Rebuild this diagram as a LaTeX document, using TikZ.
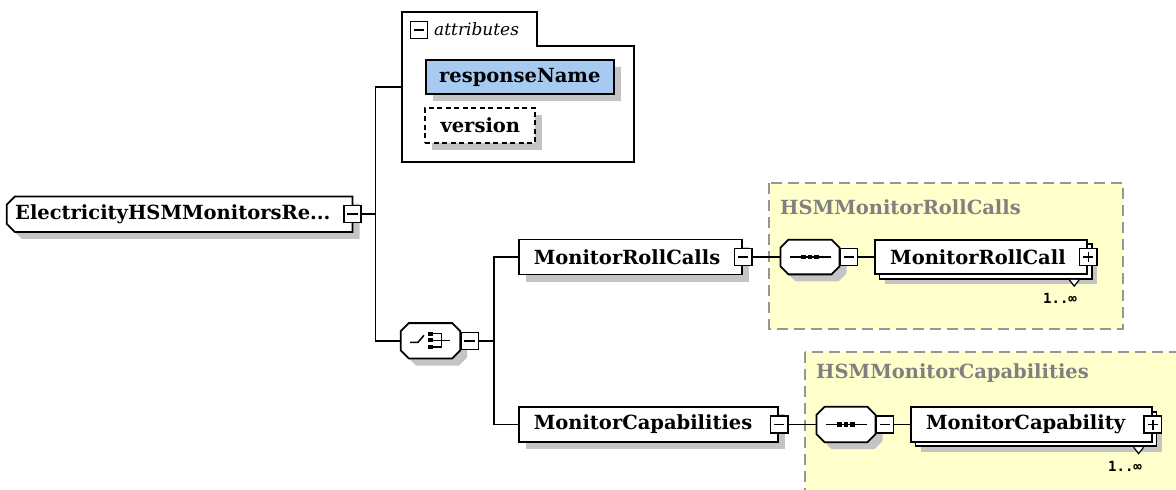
\documentclass[tikz,border=0pt]{standalone}
\usepackage{fontspec}
\setmainfont{DejaVu Serif}
\newfontfamily\cardfont{DejaVu Sans Mono}
\usetikzlibrary{shadows,calc}
\pgfdeclarelayer{back}
\pgfdeclarelayer{mid}
\pgfsetlayers{back,mid,main}
\definecolor{shadowc}{RGB}{196,196,196}
\definecolor{attrblue}{RGB}{166,202,240}
\definecolor{grpfill}{RGB}{255,255,204}
\definecolor{grpline}{RGB}{150,150,150}
\definecolor{grptext}{RGB}{128,128,128}
% octagon outline round a named node, #2 = chamfer
\newcommand\octpath[2]{($(#1.north west)+(#2,0)$) -- ($(#1.north east)+(-#2,0)$) -- ($(#1.north east)+(0,#2)$) -- ($(#1.south east)+(0,-#2)$) -- ($(#1.south east)+(-#2,0)$) -- ($(#1.south west)+(#2,0)$) -- ($(#1.south west)+(0,-#2)$) -- ($(#1.north west)+(0,#2)$) -- cycle}
% outline with the two left corners cut
\newcommand\leftcutpath[2]{($(#1.north west)+(#2,0)$) -- (#1.north east) -- (#1.south east) -- ($(#1.south west)+(#2,0)$) -- ($(#1.south west)+(0,-#2)$) -- ($(#1.north west)+(0,#2)$) -- cycle}
\begin{document}
\begin{tikzpicture}[x=1pt,y=-1pt,
  lw/.style={line width=1.8pt},
  conn/.style={draw=black, line width=1.8pt},
  namefont/.style={font=\fontsize{19.5}{22}\selectfont\bfseries},
  elem/.style={draw, lw, fill=white, minimum height=35, inner sep=0pt, namefont,
    general shadow={fill=shadowc, shadow xshift=7pt, shadow yshift=-7pt}},
  multielem/.style={draw, lw, fill=white, minimum height=34.4, inner sep=0pt, namefont,
    general shadow={fill=shadowc, shadow xshift=10pt, shadow yshift=-10pt},
    general shadow={fill=white, draw=black, line width=1.8pt, shadow xshift=4.5pt, shadow yshift=-4.5pt}},
  shapeonly/.style={draw=none, fill=none, inner sep=0pt},
  outline/.style={draw=black, fill=white, line width=1.8pt},
  shadowfill/.style={fill=shadowc, draw=none, transform canvas={shift={(7pt,-7pt)}}},
  togminus/.style={draw, fill=white, line width=1.5pt, minimum width=17.4, minimum height=17, inner sep=0pt,
    path picture={\draw[line width=1.5pt] ([xshift=3.5pt]path picture bounding box.west) -- ([xshift=-3.5pt]path picture bounding box.east);}},
  togplus/.style={draw, fill=white, line width=1.5pt, minimum width=17.4, minimum height=17, inner sep=0pt,
    path picture={\draw[line width=1.5pt] ([xshift=3.5pt]path picture bounding box.west) -- ([xshift=-3.5pt]path picture bounding box.east)
      ([yshift=-3.5pt]path picture bounding box.north) -- ([yshift=3.5pt]path picture bounding box.south);}},
  grpbox/.style={draw=grpline, fill=grpfill, line width=1.8pt, dash pattern=on 11pt off 6pt},
  grptitle/.style={namefont, text=grptext, inner sep=0pt, anchor=west},
  card/.style={font=\cardfont\bfseries\fontsize{14}{16}\selectfont, inner sep=0pt},
  cardtri/.style={draw, fill=white, line width=1.2pt},
  symline/.style={draw, line width=1.5pt}
]
\useasboundingbox (0,0) rectangle (1176,490);
% groups
\begin{pgfonlayer}{back}
\draw[grpbox] (769.3,183.3) rectangle (1122.7,329);
\draw[grpbox] (805.3,351.7) rectangle (1200,510);
\end{pgfonlayer}
\node[grptitle] (g1t) at (780,207.3) {HSMMonitorRollCalls};
\node[grptitle] (g2t) at (816,373.3) {HSMMonitorCapabilities};
% attributes
\draw[outline] (401.7,12.3) -- (537.3,12.3) -- (537.3,45.7) -- (634.3,45.7) -- (634.3,161.7) -- (401.7,161.7) -- cycle;
\coordinate (attr) at (401.7,86.7);
\node[togminus] (attrm) at (419,30) {};
\node[anchor=west, font=\fontsize{17}{19}\selectfont\itshape, inner sep=0pt] (attrt) at (434,29) {attributes};
\node[elem, fill=attrblue, minimum width=188.3, minimum height=34.3] (resp) at (519.85,77.15) {responseName};
\node[elem, dash pattern=on 5pt off 3.5pt, minimum width=110, minimum height=35] (ver) at (480.3,125.3) {version};
% root
\node[shapeonly, namefont, minimum width=345.3, minimum height=35] (root) at (179.65,214.2) {\makebox[329pt][l]{ElectricityHSMMonitorsRe...}};
\begin{pgfonlayer}{mid}
\fill[shadowfill] \leftcutpath{root}{8};
\draw[outline] \leftcutpath{root}{8};
\end{pgfonlayer}
\node[togminus] (rootm) at (root.east) {};
% choice
\node[shapeonly, minimum width=59, minimum height=35] (ch) at (430.5,340.8) {};
\begin{pgfonlayer}{mid}
\fill[shadowfill] \octpath{ch}{8};
\draw[outline] \octpath{ch}{8};
\end{pgfonlayer}
\draw[symline] ($(ch.center)+(-20.5,1.5)$) -- ($(ch.center)+(-12.5,1.5)$) -- ($(ch.center)+(-6.5,-5.5)$);
\fill ($(ch.center)+(-2.8,-9.1)$) rectangle ++(5,4);
\fill ($(ch.center)+(-2.8,-2.5)$) rectangle ++(5,4);
\fill ($(ch.center)+(-2.8,4.2)$) rectangle ++(5,4);
\draw[symline] ($(ch.center)+(2.2,-7.1)$) -- ($(ch.center)+(11.2,-7.1)$) -- ($(ch.center)+(11.2,6.2)$) -- ($(ch.center)+(2.2,6.2)$);
\draw[symline] ($(ch.center)+(2.2,-0.5)$) -- ($(ch.center)+(19.5,-0.5)$);
\node[togminus, anchor=west] (chm) at (ch.east) {};
% level 2
\node[elem, minimum width=223] (mrc) at (630.8,257) {\makebox[194pt][l]{MonitorRollCalls}};
\node[togminus] (mrcm) at (mrc.east) {};
\node[elem, minimum width=259] (mcs) at (648.8,424.5) {\makebox[230pt][l]{MonitorCapabilities}};
\node[togminus] (mcsm) at (mcs.east) {};
% sequence 1
\node[shapeonly, minimum width=58.6, minimum height=34.3] (sq1) at (810,257) {};
\begin{pgfonlayer}{mid}
\fill[shadowfill] \octpath{sq1}{8};
\draw[outline] \octpath{sq1}{8};
\end{pgfonlayer}
\draw[symline] ($(sq1.center)+(-20,0)$) -- ($(sq1.center)+(21,0)$);
\foreach \dx in {-6.5,0,6.5} \fill ($(sq1.center)+(\dx-2.2,-2.2)$) rectangle ++(4.4,4.4);
\node[togminus, anchor=west] (sq1m) at (sq1.east) {};
\node[multielem, minimum width=212.3] (mr1) at (981.2,257) {\makebox[182pt][l]{MonitorRollCall}};
\draw[cardtri] ($(mr1.south east)+(-19,4.7)$) -- ($(mr1.south east)+(-14,11)$) -- ($(mr1.south east)+(-9,4.7)$);
\node[togplus] (mr1p) at (mr1.east) {};
\node[card] (mr1c) at (1060,298) {1..∞};
% sequence 2
\node[shapeonly, minimum width=58.6, minimum height=35] (sq2) at (846,424.5) {};
\begin{pgfonlayer}{mid}
\fill[shadowfill] \octpath{sq2}{8};
\draw[outline] \octpath{sq2}{8};
\end{pgfonlayer}
\draw[symline] ($(sq2.center)+(-20,0)$) -- ($(sq2.center)+(21,0)$);
\foreach \dx in {-6.5,0,6.5} \fill ($(sq2.center)+(\dx-2.2,-2.2)$) rectangle ++(4.4,4.4);
\node[togminus, anchor=west] (sq2m) at (sq2.east) {};
\node[multielem, minimum width=241] (mc1) at (1031.5,424.5) {\makebox[211pt][l]{MonitorCapability}};
\draw[cardtri] ($(mc1.south east)+(-19.3,4.7)$) -- ($(mc1.south east)+(-14.3,11)$) -- ($(mc1.south east)+(-9.3,4.7)$);
\node[togplus] (mc1p) at (mc1.east) {};
\node[card] (mc1c) at (1125,466) {1..∞};
% connectors
\coordinate (busA) at (375.5,86.7);
\coordinate (busB) at (494,340.8);
\draw[conn] (attr) -- (busA) |- (ch.west);
\draw[conn] (rootm.east) -- (rootm.east -| busA);
\draw[conn] (chm.east) -- (busB);
\draw[conn] (mrc.west) -| (busB) |- (mcs.west);
\draw[conn] (mrcm.east) -- (sq1.west);
\draw[conn] (sq1m.east) -- (mr1.west);
\draw[conn] (mcsm.east) -- (sq2.west);
\draw[conn] (sq2m.east) -- (mc1.west);
\end{tikzpicture}
\end{document}
